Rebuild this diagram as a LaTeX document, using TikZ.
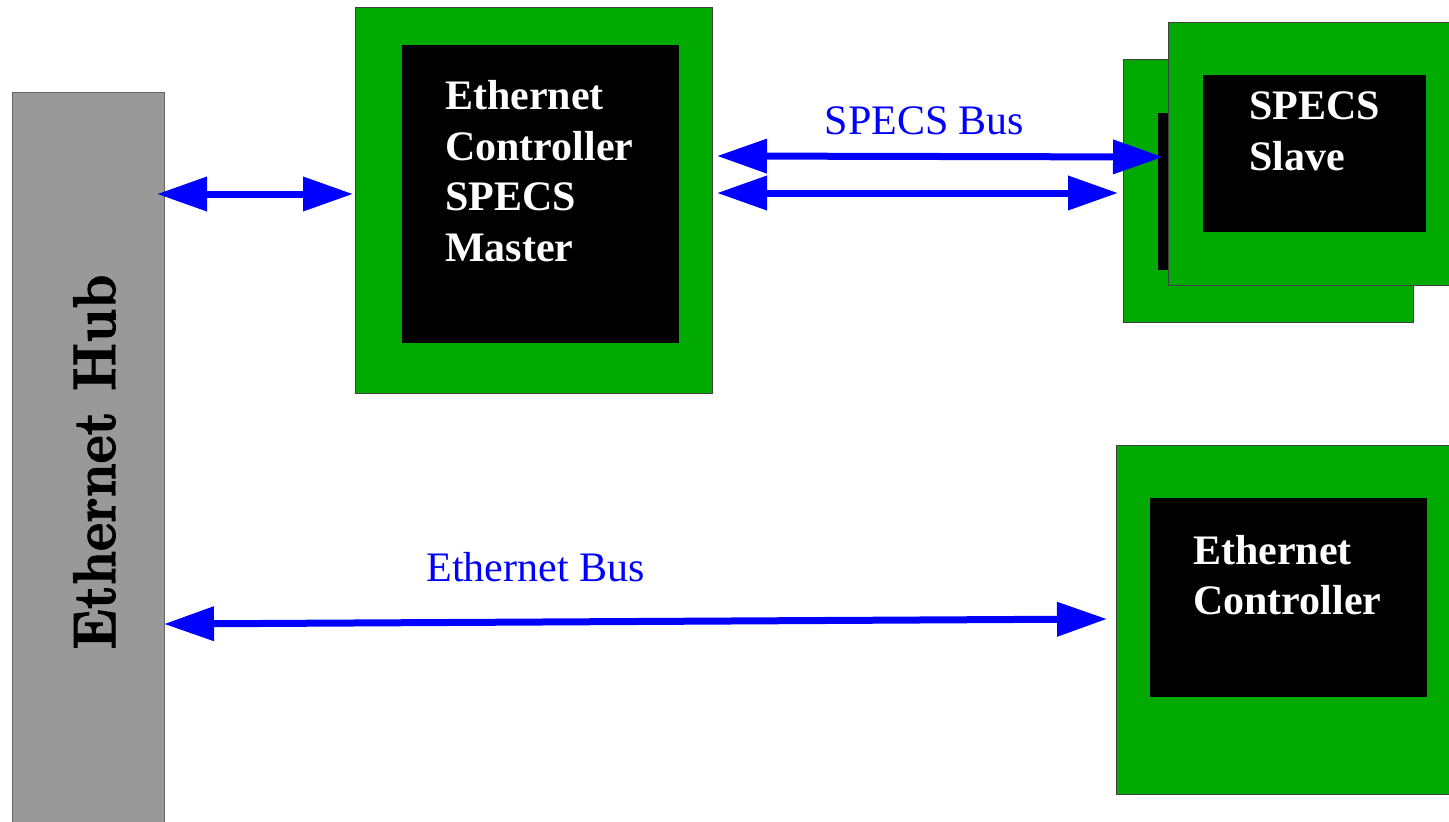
\documentclass[tikz,border=0pt]{standalone}
\usepackage{fontspec}
\newfontfamily\timesfont{Liberation Serif}
\newfontfamily\hubfont{lmroman10-bold}[Extension=.otf, FakeBold=2]
\usetikzlibrary{arrows.meta}
\definecolor{boardgreen}{RGB}{0,170,0}
\definecolor{hubgray}{RGB}{153,153,153}
\definecolor{busblue}{RGB}{0,0,255}
\tikzset{
  box/.style={rectangle, anchor=north west, outer sep=0pt, inner sep=0pt},
  board/.style={box, fill=boardgreen, draw=black!75, line width=1pt},
  chip/.style={box, fill=black},
  hubbox/.style={box, fill=hubgray, draw=black!60, line width=1pt},
  % anchored at the baseline of the last line
  chiptext/.style={anchor=base west, inner sep=0pt, align=left, text=white,
    font=\timesfont\bfseries\fontsize{42}{50.5}\selectfont},
  buslabel/.style={anchor=base, inner sep=0pt, text=busblue,
    font=\timesfont\fontsize{42}{50}\selectfont},
  hubtext/.style={anchor=base, inner sep=0pt, rotate=90, xscale=0.89,
    font=\hubfont\fontsize{60}{60}\selectfont},
  bus/.style={draw=busblue, line width=7pt,
    {Triangle[length=50pt,width=33pt]}-{Triangle[length=50pt,width=33pt]}}
}
\begin{document}
\begin{tikzpicture}[x=1pt,y=-1pt]
  \clip (0,0) rectangle (1449,822);
  \fill[white] (0,0) rectangle (1449,822);

  % Ethernet hub column
  \node[hubbox, minimum width=152pt, minimum height=745pt] (hub) at (12,92) {};
  \node[hubtext] (hublabel) at (115,462) {Ethernet Hub};

  % Controller board with SPECS master
  \node[board, minimum width=357pt, minimum height=386pt] (master) at (355,7) {};
  \node[chip, minimum width=277pt, minimum height=298pt] (masterchip) at (402,45) {};
  \node[chiptext] (mastertext) at (445,261) {Ethernet\\Controller\\SPECS\\Master};

  % Stack of SPECS slave boards
  \node[board, minimum width=290pt, minimum height=263pt] (slaveback) at (1123,59) {};
  \node[chip, minimum width=223pt, minimum height=157pt] (slavebackchip) at (1158,113) {};
  \node[board, minimum width=290pt, minimum height=263pt] (slave) at (1168,22) {};
  \node[chip, minimum width=223pt, minimum height=157pt] (slavechip) at (1203,75) {};
  \node[chiptext, font=\timesfont\bfseries\fontsize{42}{51}\selectfont] (slavetext) at (1249,170) {SPECS\\Slave};

  % Plain Ethernet controller board
  \node[board, minimum width=340pt, minimum height=349pt] (ctrl) at (1116,445) {};
  \node[chip, minimum width=277pt, minimum height=199pt] (ctrlchip) at (1150,498) {};
  \node[chiptext, font=\timesfont\bfseries\fontsize{42}{50}\selectfont] (ctrltext) at (1193,614) {Ethernet\\Controller};

  % Links
  \draw[bus] ([xshift=-7pt]hub.east |- 0,194) -- ([xshift=-2pt]master.west |- 0,194);
  \draw[bus] ([xshift=5pt]master.east |- 0,156) -- ([xshift=-5pt]slave.west |- 0,157);
  \draw[bus] ([xshift=5pt]master.east |- 0,193) -- ([xshift=-5pt]slaveback.west |- 0,193);
  \draw[bus] (hub.east |- 0,624) -- ([xshift=-9pt]ctrl.west |- 0,619);

  \node[buslabel] (specsbus) at (924.5,134) {SPECS Bus};
  \node[buslabel] (ethbus) at (535.5,581) {Ethernet Bus};
\end{tikzpicture}
\end{document}
